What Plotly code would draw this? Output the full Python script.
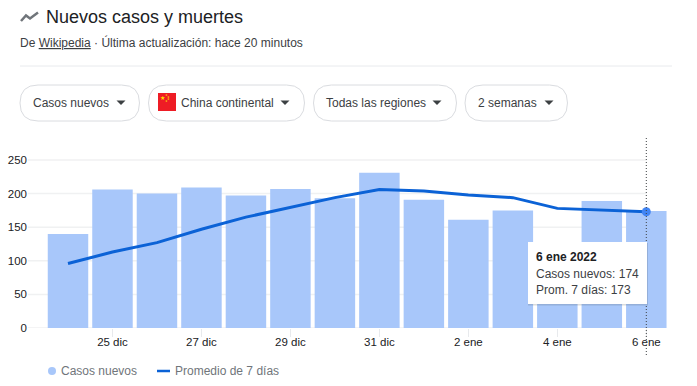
import plotly.graph_objects as go

# ---- data ----
dias = ["24 dic", "25 dic", "26 dic", "27 dic", "28 dic", "29 dic", "30 dic", "31 dic",
        "1 ene", "2 ene", "3 ene", "4 ene", "5 ene", "6 ene"]
casos_nuevos = [140, 206, 200, 209, 197, 207, 193, 231, 191, 161, 175, 85, 189, 174]
promedio_7d = [96, 113, 127, 147, 165, 180, 194, 206, 204, 198, 194, 178, 176, 173]
ticks_x = ["25 dic", "27 dic", "29 dic", "31 dic", "2 ene", "4 ene", "6 ene"]
ticks_y = [0, 50, 100, 150, 200, 250]
chips = ["Casos nuevos", "China continental", "Todas las regiones", "2 semanas"]

# ---- page geometry ----
W, H = 697, 386
L, R, T, B = 28, 680, 136, 328
FONT = "Liberation Sans"
C_BAR, C_LINE, C_DOT = "#a8c7fa", "#0b62d6", "#4285f4"
C_TXT, C_SUB, C_GREY, C_RULE = "#202124", "#3c4043", "#70757a", "#e8eaed"


def px(x):
    return (x - L) / (R - L)


def py(y):
    return (B - y) / (B - T)


shapes, notes = [], []


def rect(x0, y0, x1, y1, fill, line=None, lw=0):
    shapes.append(dict(type="rect", xref="paper", yref="paper", x0=px(x0), x1=px(x1), y0=py(y0), y1=py(y1),
                       fillcolor=fill, line=dict(color=line or fill, width=lw), layer="above"))


def path(points, fill=None, line=None, lw=0, close=False):
    d = "M " + " L ".join(f"{px(a):.5f} {py(b):.5f}" for a, b in points) + (" Z" if close else "")
    shapes.append(dict(type="path", xref="paper", yref="paper", path=d, fillcolor=fill or "rgba(0,0,0,0)",
                       line=dict(color=line or "rgba(0,0,0,0)", width=lw), layer="above"))


def pill(x0, y0, x1, y1, r=18):
    a, b = px(x0), px(x1)
    ra = r / (R - L)
    t, u = py(y0), py(y1)
    rb = r / (B - T)
    d = (f"M {a+ra:.5f} {t:.5f} L {b-ra:.5f} {t:.5f} Q {b:.5f} {t:.5f} {b:.5f} {t-rb:.5f} "
         f"Q {b:.5f} {u:.5f} {b-ra:.5f} {u:.5f} L {a+ra:.5f} {u:.5f} "
         f"Q {a:.5f} {u:.5f} {a:.5f} {t-rb:.5f} Q {a:.5f} {t:.5f} {a+ra:.5f} {t:.5f} Z")
    shapes.append(dict(type="path", xref="paper", yref="paper", path=d, fillcolor="white",
                       line=dict(color="#dadce0", width=1), layer="above"))


def text(x, y, s, size=12, color=C_SUB, anchor="left"):
    notes.append(dict(xref="paper", yref="paper", x=px(x), y=py(y), text=s, showarrow=False, xanchor=anchor,
                      yanchor="middle", align="left", borderpad=0, borderwidth=0,
                      font=dict(family=FONT, size=size, color=color)))


# header
path([(21, 21), (26, 15.5), (30, 18.5), (38, 12.5)], line=C_GREY, lw=2.5)
text(46, 17, "Nuevos casos y muertes", 18, C_TXT)
text(20, 42, "De <u>Wikipedia</u> · Última actualización: hace 20 minutos", 12, C_SUB)
path([(20, 66), (672, 66)], line=C_RULE, lw=1)

# filter chips
chip_boxes = [(20, 139.5), (148.5, 304.5), (313.5, 456.5), (465, 567.5)]
chip_text_x = [33, 181, 326, 478]
arrow_x = [121, 285, 437, 549]
for name, (a, b), tx, ax in zip(chips, chip_boxes, chip_text_x, arrow_x):
    pill(a, 85, b, 121)
    text(tx, 103, name, 12, C_SUB)
    path([(ax - 4.5, 100.5), (ax + 4.5, 100.5), (ax, 105)], fill=C_SUB, close=True)

# flag
rect(158, 93, 176, 111, "#ee1c25")
for fx, fy, fs in [(162.5, 97.5, 6), (166.5, 94.8, 2.6), (168.3, 96.6, 2.6), (168.3, 99.2, 2.6), (166.5, 101, 2.6)]:
    text(fx, fy, "★", fs, "#ffde00", "center")

# gridlines stop at the last day, as in the reference
for v in ticks_y:
    shapes.append(dict(type="line", xref="paper", yref="y", x0=0, y0=v, x1=(646.5 - L) / (R - L), y1=v,
                       line=dict(color="#f0f1f2", width=1.5), layer="below"))

# crosshair
shapes.append(dict(type="line", xref="x", yref="paper", x0=dias[-1], x1=dias[-1], y0=py(355), y1=1,
                   line=dict(color="#3c4043", width=1, dash="1px,2px"), layer="above"))

# tooltip
rect(528, 243, 648, 305.5, "rgba(60,64,67,0.18)")
rect(528, 242, 647, 304, "white")
text(536, 257, f"<b>{dias[-1]} 2022</b>", 12, C_TXT)
text(536, 273.5, f"Casos nuevos: {casos_nuevos[-1]}", 12, C_SUB)
text(536, 290, f"Prom. 7 días: {promedio_7d[-1]}", 12, C_SUB)

# legend
shapes.append(dict(type="circle", xref="paper", yref="paper", x0=px(48), x1=px(56), y0=py(367), y1=py(375),
                   fillcolor=C_BAR, line=dict(width=0), layer="above"))
text(61, 371, "Casos nuevos", 12, C_GREY)
path([(157, 371), (170, 371)], line=C_LINE, lw=2.5)
text(175, 371, "Promedio de 7 días", 12, C_GREY)

fig = go.Figure()
fig.add_bar(x=dias, y=casos_nuevos, marker=dict(color=C_BAR, line=dict(width=0)), name="Casos nuevos")
fig.add_scatter(x=dias, y=promedio_7d, mode="lines", line=dict(color=C_LINE, width=3), name="Promedio de 7 días")
fig.add_scatter(x=dias[-1:], y=promedio_7d[-1:], mode="markers", marker=dict(color=C_DOT, size=9),
                name="Actual")

per_day = (646.3 - 68) / 13
fig.update_layout(
    width=W, height=H, autosize=False, showlegend=False,
    margin=dict(l=L, r=W - R, t=T, b=H - B, pad=0, autoexpand=False),
    paper_bgcolor="white", plot_bgcolor="white", bargap=0.09,
    font=dict(family=FONT, size=12, color=C_TXT),
    shapes=shapes, annotations=notes,
    xaxis=dict(type="category", categoryorder="array", categoryarray=dias, automargin=False,
               range=[-(68 - L) / per_day, (R - 68) / per_day],
               tickmode="array", tickvals=ticks_x, ticktext=ticks_x, ticks="outside", ticklen=8, tickwidth=1,
               tickcolor=C_RULE, showgrid=False, zeroline=False, showline=False, ticklabelstandoff=-5,
               tickfont=dict(family=FONT, size=11.5, color=C_TXT)),
    yaxis=dict(range=[0, (B - T) / 0.672], tickmode="array", tickvals=ticks_y, showgrid=False, zeroline=False,
               automargin=False, showline=False, ticks="", tickfont=dict(family=FONT, size=11.5, color=C_TXT)),
)

fig.write_html("out.html", config=dict(displayModeBar=False),
               post_script="document.body.style.margin='0';document.body.style.overflow='hidden';")
